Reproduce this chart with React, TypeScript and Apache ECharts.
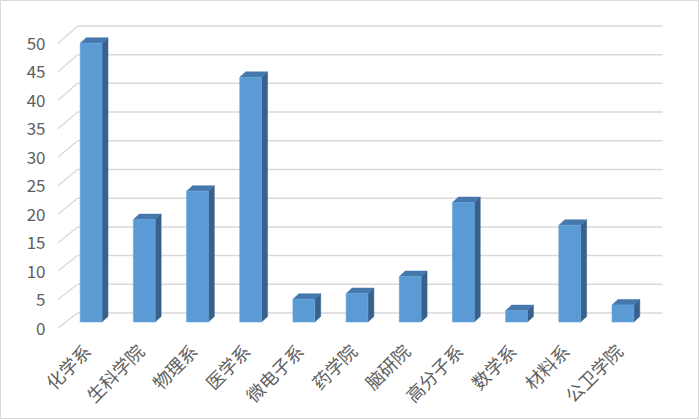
import React, { useEffect, useRef } from "react";
import * as echarts from "echarts";

const categories = ["化学系", "生科学院", "物理系", "医学系", "微电子系", "药学院", "脑研院", "高分子系", "数学系", "材料系", "公卫学院"];
const values = [49, 18, 23, 43, 4, 5, 8, 21, 2, 17, 3];
const yTicks = [0, 5, 10, 15, 20, 25, 30, 35, 40, 45, 50];

export default function App() {
  const ref = useRef<HTMLDivElement>(null);
  useEffect(() => {
    if (!ref.current) return;
    const chart = echarts.init(ref.current, null, { renderer: "svg" });
    const gridColor = "#d9d9d9";
    const option: any = {
      animation: false,
      backgroundColor: "#ffffff",
      textStyle: { fontFamily: "'Noto Sans CJK SC', 'Noto Sans', sans-serif" },
      graphic: [
        {
          type: "rect",
          shape: { x: 0.5, y: 0.5, width: 698, height: 418 },
          style: { fill: "none", stroke: "#d9d9d9", lineWidth: 1 },
          silent: true,
        },
      ],
      grid: [
        { left: 64.5, right: 50.5, top: 37.5, bottom: 98, containLabel: false },
        { left: 64.5, right: 50.5, top: 42.5, bottom: 93, containLabel: false },
      ],
      xAxis: [
        {
          type: "category",
          data: categories,
          gridIndex: 0,
          axisLine: { show: false },
          axisTick: { show: false },
          splitLine: { show: false },
          axisLabel: {
            interval: 0,
            rotate: 45,
            fontSize: 18,
            color: "#5f5f5f",
            margin: 21,
            padding: [0, 6, 0, 0],
          },
        },
        {
          type: "category",
          data: categories,
          gridIndex: 1,
          show: false,
        },
      ],
      yAxis: [
        {
          type: "value",
          gridIndex: 0,
          min: 0,
          max: 50,
          interval: 5,
          axisLine: { show: false },
          axisTick: { show: false },
          splitLine: { show: false },
          axisLabel: { show: false },
        },
        {
          type: "value",
          gridIndex: 1,
          min: 0,
          max: 50,
          interval: 5,
          axisLine: { show: false },
          axisTick: { show: false },
          splitLine: { show: false },
          axisLabel: { fontSize: 17, color: "#5f5f5f", margin: 19 },
        },
      ],
      series: [
        {
          type: "custom",
          z: 1,
          silent: true,
          clip: false,
          xAxisIndex: 0,
          yAxisIndex: 0,
          data: yTicks.map((v) => [0, v]),
          renderItem: (params: any, api: any) => {
            const v = api.value(1);
            const cs = params.coordSys;
            const p = api.coord([0, v]);
            const base = api.coord([0, 0])[1];
            const y = p[1];
            const backY = base - 9 - (base - y) * 1.009;
            const backX0 = cs.x + 13;
            const backX1 = cs.x + cs.width + 13;
            return {
              type: "group",
              children: [
                {
                  type: "line",
                  shape: { x1: cs.x - 6.5, y1: y + 6, x2: backX0, y2: backY },
                  style: { stroke: gridColor, lineWidth: 1.3 },
                },
                {
                  type: "line",
                  shape: { x1: backX0, y1: backY, x2: backX1, y2: backY },
                  style: { stroke: gridColor, lineWidth: 1.5 },
                },
              ],
            };
          },
        },
        {
          type: "custom",
          z: 2,
          clip: false,
          xAxisIndex: 0,
          yAxisIndex: 0,
          data: values.map((v, i) => [i, v]),
          renderItem: (params: any, api: any) => {
            const i = api.value(0);
            const v = api.value(1);
            const top = api.coord([i, v]);
            const base = api.coord([i, 0]);
            const band = api.size([1, 0])[0];
            const w = band * 0.41;
            const x0 = top[0] - w / 2;
            const x1 = top[0] + w / 2;
            const dx = 6;
            const dy = 5.5;
            const yt = top[1];
            const yb = base[1];
            return {
              type: "group",
              children: [
                {
                  type: "polygon",
                  shape: { points: [[x1, yt], [x1 + dx, yt - dy], [x1 + dx, yb - dy], [x1, yb]] },
                  style: { fill: "#38628d", stroke: "#38628d", lineWidth: 0.5 },
                },
                {
                  type: "polygon",
                  shape: { points: [[x0, yt], [x0 + dx, yt - dy], [x1 + dx, yt - dy], [x1, yt]] },
                  style: { fill: "#4677ad", stroke: "#4677ad", lineWidth: 0.5 },
                },
                {
                  type: "rect",
                  shape: { x: x0, y: yt, width: w, height: yb - yt },
                  style: { fill: "#5b9bd5", stroke: "#6aa6dc", lineWidth: 0.6 },
                },
              ],
            };
          },
        },
      ],
    };
    chart.setOption(option);
    return () => chart.dispose();
  }, []);
  return (
    <div
      ref={ref}
      style={{ position: "fixed", left: 0, top: 0, width: 700, height: 420, background: "#fff" }}
    />
  );
}
